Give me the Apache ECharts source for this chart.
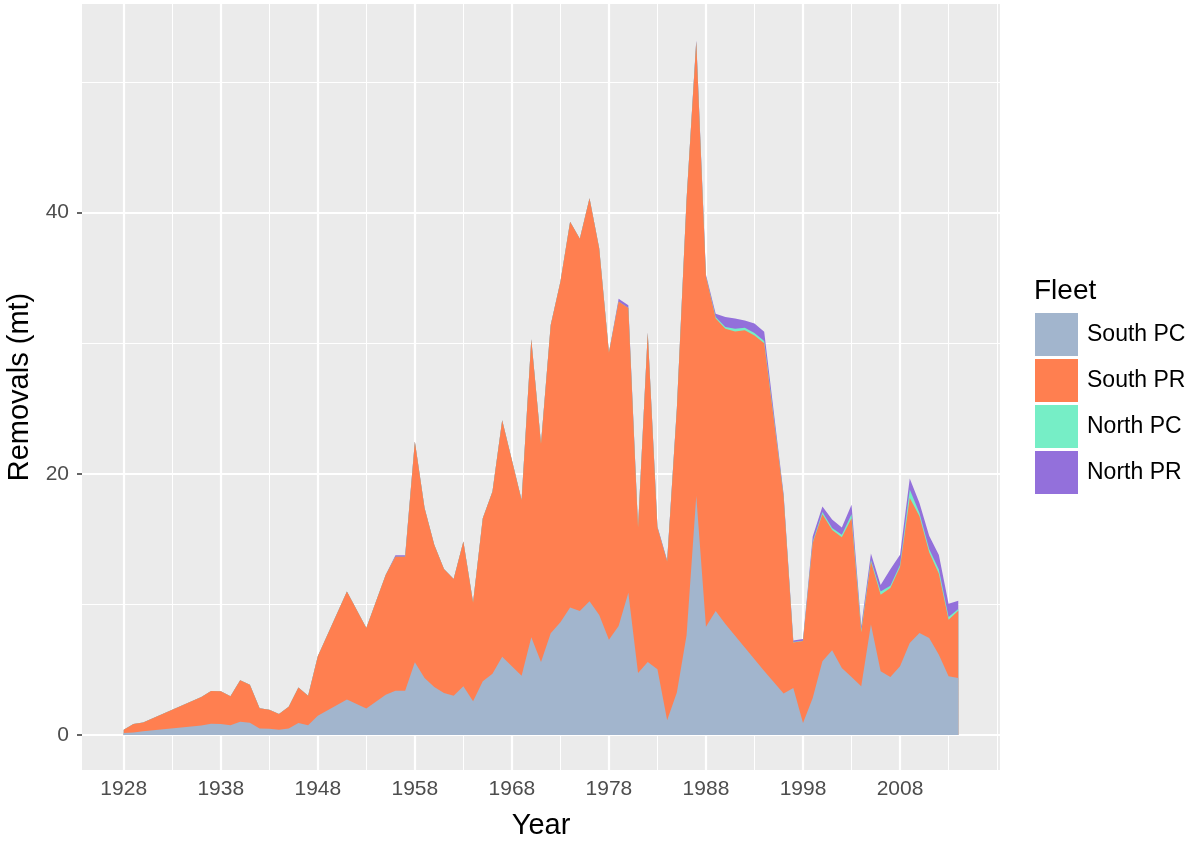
<!DOCTYPE html>
<html>
<head>
<meta charset="utf-8">
<script src="https://cdn.jsdelivr.net/npm/echarts@6/dist/echarts.min.js"></script>
<style>
  html, body { margin: 0; padding: 0; background: #ffffff; }
  #container { width: 1198px; height: 841px; }
</style>
</head>
<body>
<div id="container"></div>
<script>
var dom = document.getElementById('container');
var myChart = echarts.init(dom, null, { renderer: 'canvas' });

// years that show a break in the outline (straight stretches have no points)
var years = [1928, 1929, 1930,
    1936, 1937, 1938, 1939, 1940, 1941, 1942, 1943, 1944, 1945, 1946, 1947, 1948,
    1951, 1953,
    1955, 1956, 1957, 1958, 1959, 1960, 1961, 1962, 1963, 1964, 1965, 1966, 1967,
    1969, 1970, 1971, 1972, 1973, 1974, 1975, 1976, 1977, 1978, 1979, 1980, 1981, 1982,
    1983, 1984, 1985, 1986, 1987, 1988, 1989, 1990, 1991, 1992, 1993, 1994,
    1996, 1997, 1998, 1999, 2000, 2001, 2002, 2003, 2004, 2005, 2006, 2007, 2008,
    2009, 2010, 2011, 2012, 2013, 2014];

var southPC = [0.17, 0.2, 0.3,
    0.73, 0.88, 0.85, 0.75, 1.03, 0.95, 0.5, 0.48, 0.42, 0.5, 0.93, 0.75, 1.49,
    2.72, 2.03,
    3.1, 3.4, 3.4, 5.57, 4.37, 3.69, 3.23, 3.02, 3.74, 2.59, 4.12, 4.7, 6.0,
    4.55, 7.5, 5.6, 7.8, 8.64, 9.77, 9.5, 10.25, 9.2, 7.3, 8.36, 10.9, 4.76, 5.6,
    5.04, 1.13, 3.26, 7.65, 18.3, 8.3, 9.5, 8.5, 7.6, 6.7, 5.8, 4.9,
    3.18, 3.6, 0.93, 2.85, 5.65, 6.49, 5.14, 4.45, 3.74, 8.46, 4.89, 4.45, 5.27,
    7.05, 7.82, 7.44, 6.16, 4.5, 4.37];

var southPR = [0.25, 0.66, 0.66,
    2.19, 2.5, 2.5, 2.22, 3.17, 2.91, 1.55, 1.47, 1.2, 1.68, 2.72, 2.27, 4.54,
    8.28, 6.17,
    9.18, 10.25, 10.25, 16.91, 13.01, 10.89, 9.48, 8.93, 11.09, 7.57, 12.48, 13.95, 18.1,
    13.45, 22.8, 16.7, 23.6, 26.06, 29.53, 28.5, 30.85, 28.05, 22.0, 24.84, 21.8, 11.14, 25.2,
    10.86, 12.17, 21.74, 33.35, 34.8, 26.8, 22.4, 22.6, 23.3, 24.3, 24.8, 25.1,
    15.07, 3.5, 6.27, 11.85, 11.25, 9.21, 10.0, 12.15, 4.13, 4.84, 5.86, 6.81, 7.6,
    11.1, 8.93, 6.56, 6.2, 4.34, 5.16];

var northPC = [0, 0, 0,
    0, 0, 0, 0, 0, 0, 0, 0, 0, 0, 0, 0, 0,
    0, 0,
    0, 0, 0, 0, 0, 0, 0, 0, 0, 0, 0, 0, 0,
    0, 0, 0, 0, 0, 0, 0, 0, 0, 0, 0, 0, 0, 0,
    0, 0, 0, 0, 0, 0, 0.1, 0.15, 0.2, 0.18, 0.18, 0.18,
    0.05, 0.03, 0.03, 0.1, 0.18, 0.16, 0.2, 0.3, 0.2, 0.13, 0.25, 0.18, 0.18,
    0.65, 0.25, 0.25, 0.31, 0.2, 0.13];

var northPR = [0, 0, 0,
    0, 0, 0, 0, 0, 0, 0, 0, 0, 0, 0, 0, 0,
    0, 0,
    0, 0.12, 0.12, 0, 0, 0, 0, 0, 0, 0, 0, 0, 0,
    0, 0, 0, 0, 0, 0, 0, 0, 0, 0, 0.2, 0.2, 0, 0,
    0.08, 0.08, 0, 0, 0.1, 0.15, 0.25, 0.75, 0.8, 0.56, 0.73, 0.7,
    0.15, 0.12, 0.12, 0.4, 0.42, 0.64, 0.56, 0.74, 0.26, 0.47, 0.5, 1.26, 0.75,
    0.84, 0.77, 1.02, 1.12, 1.02, 0.63];

var fleets = ['South PC', 'South PR', 'North PC', 'North PR'];
var fleetColors = ['#A2B5CD', '#FF7F50', '#76EEC6', '#9370DB'];

var majorX = [1928, 1938, 1948, 1958, 1968, 1978, 1988, 1998, 2008];
var minorX = [1933, 1943, 1953, 1963, 1973, 1983, 1993, 2003, 2013, 2018];
var majorY = [0, 20, 40];
var minorY = [10, 30, 50];

var font = "'Liberation Sans', Arial, Helvetica, sans-serif";

// running totals so each fleet sits on top of the ones below it;
// every area is filled down to 0 and the lower fleets are drawn over it
var layers = [southPC, southPR, northPC, northPR];
var running = years.map(function () { return 0; });
var stacked = layers.map(function (vals) {
    running = running.map(function (r, i) { return r + vals[i]; });
    return years.map(function (y, i) { return [y, +running[i].toFixed(3)]; });
});

function area(idx) {
    var color = fleetColors[idx];
    return {
        name: fleets[idx],
        type: 'line',
        data: stacked[idx],
        symbol: 'none',
        showSymbol: false,
        color: color,
        lineStyle: { width: 0, opacity: 0 },
        areaStyle: { color: color, opacity: 1, origin: 'auto' },
        emphasis: { disabled: true },
        z: 10 - idx
    };
}

var gridLines = [];
minorX.forEach(function (v) { gridLines.push({ xAxis: v, lineStyle: { color: '#ffffff', width: 1, type: 'solid' } }); });
minorY.forEach(function (v) { gridLines.push({ yAxis: v, lineStyle: { color: '#ffffff', width: 1, type: 'solid' } }); });
majorX.forEach(function (v) { gridLines.push({ xAxis: v, lineStyle: { color: '#ffffff', width: 2.2, type: 'solid' } }); });
majorY.forEach(function (v) { gridLines.push({ yAxis: v, lineStyle: { color: '#ffffff', width: 2.2, type: 'solid' } }); });

var option = {
    animation: false,
    textStyle: { fontFamily: font },
    title: {
        text: 'Fleet',
        left: 1034,
        top: 277,
        padding: 0,
        textStyle: { fontSize: 28, fontWeight: 'normal', color: '#000000', fontFamily: font }
    },
    legend: {
        data: fleets,
        orient: 'vertical',
        left: 1035,
        top: 313,
        padding: 0,
        itemWidth: 43,
        itemHeight: 43,
        itemGap: 3,
        icon: 'rect',
        textStyle: { fontSize: 23, color: '#000000', fontFamily: font, padding: [0, 0, 0, 4] },
        selectedMode: false
    },
    grid: {
        left: 82,
        right: 198,
        top: 4,
        bottom: 71,
        show: true,
        backgroundColor: '#EBEBEB',
        borderWidth: 0,
        containLabel: false,
        outerBoundsMode: 'none'
    },
    xAxis: {
        type: 'value',
        min: 1923.7,
        max: 2018.3,
        name: 'Year',
        nameLocation: 'middle',
        nameGap: 41,
        nameTextStyle: { fontSize: 29, color: '#000000', fontFamily: font },
        axisLine: { show: false },
        splitLine: { show: false },
        axisTick: { show: true, customValues: majorX, length: 5, lineStyle: { color: '#333333', width: 1.5 } },
        axisLabel: {
            customValues: majorX,
            color: '#4D4D4D',
            fontSize: 21,
            margin: 9,
            fontFamily: font,
            formatter: function (v) { return String(v); }
        }
    },
    yAxis: {
        type: 'value',
        min: -2.67,
        max: 55.97,
        name: 'Removals (mt)',
        nameLocation: 'middle',
        nameRotate: 90,
        nameGap: 47,
        nameTextStyle: { fontSize: 29, color: '#000000', fontFamily: font },
        axisLine: { show: false },
        splitLine: { show: false },
        axisTick: { show: true, customValues: majorY, length: 5, lineStyle: { color: '#333333', width: 1.5 } },
        axisLabel: {
            customValues: majorY,
            color: '#4D4D4D',
            fontSize: 21,
            margin: 13,
            fontFamily: font,
            formatter: function (v) { return String(v); }
        }
    },
    series: [
        {
            type: 'line',
            data: [],
            silent: true,
            z: 1,
            markLine: {
                silent: true,
                symbol: 'none',
                z: 1,
                label: { show: false },
                emphasis: { disabled: true },
                animation: false,
                data: gridLines
            }
        },
        area(0),
        area(1),
        area(2),
        area(3)
    ]
};

myChart.setOption(option);
window.addEventListener('resize', myChart.resize);
</script>
</body>
</html>
